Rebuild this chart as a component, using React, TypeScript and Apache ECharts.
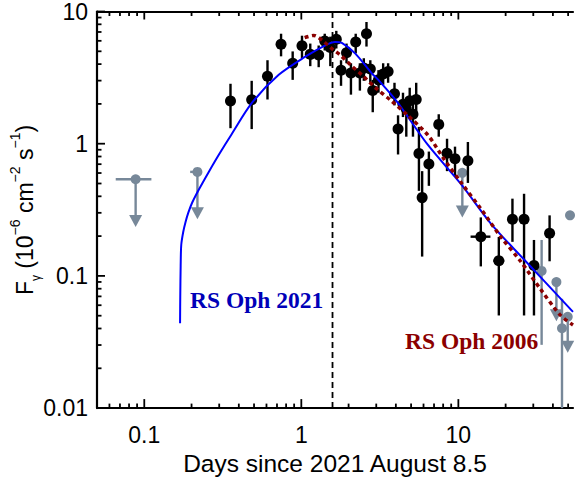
import React, { useEffect, useRef } from "react";
import * as echarts from "echarts";

// ---- Fermi-LAT detections (RS Oph 2021) ----
const detDays = [0.354, 0.483, 0.609, 0.743, 0.881, 1.01, 1.14, 1.29, 1.41, 1.53, 1.67, 1.79, 1.94, 2.07, 2.22, 2.36, 2.5, 2.6, 2.75, 2.85, 3.1, 3.32, 3.57, 3.92, 4.13, 4.44, 4.66, 4.9, 5.14, 5.39, 5.61, 5.88, 6.49, 7.5, 8.47, 9.52, 11.5, 13.9, 18.1, 22.1, 26.2, 30.3, 38.1];
const detFlux = [2.1, 2.15, 3.24, 5.65, 4.06, 5.5, 4.74, 4.68, 5.97, 5.34, 6.17, 3.6, 4.88, 3.42, 5.87, 3.42, 3.73, 6.79, 3.67, 2.53, 3.04, 3.37, 3.51, 2.39, 1.29, 1.99, 1.83, 2.11, 1.67, 2.16, 0.843, 0.391, 0.702, 1.4, 0.847, 0.77, 0.744, 0.198, 0.13, 0.268, 0.268, 0.12, 0.21];
const detLow = [1.31, 1.29, 2.16, 4.58, 3.04, 4.43, 3.86, 3.79, 5.07, 3.86, 5.25, 2.74, 4.06, 2.35, 4.82, 2.52, 2.99, 5.43, 2.89, 1.73, 2.43, 2.79, 2.89, 1.95, 0.829, 1.59, 1.13, 1.73, 1.13, 1.73, 0.44, 0.14, 0.48, 1.13, 0.62, 0.569, 0.505, 0.118, 0.0502, 0.181, 0.0502, 0.0502, 0.129];
const detHigh = [2.84, 2.99, 4.28, 6.79, 4.99, 6.56, 5.72, 5.53, 6.79, 6.45, 7.14, 4.28, 5.72, 4.06, 6.79, 4.06, 4.43, 8.33, 4.28, 3.04, 3.6, 4.06, 4.06, 2.89, 1.64, 2.43, 2.23, 2.65, 2.05, 2.89, 1.34, 0.62, 0.872, 1.67, 1.09, 0.95, 1.03, 0.277, 0.197, 0.384, 0.418, 0.187, 0.287];
// horizontal (time) error bars, 0 = none
const detDayLow = [0, 0, 0, 0, 0, 0, 0, 0, 0, 0, 0, 0, 0, 0, 0, 0, 0, 0, 0, 0, 0, 0, 0, 0, 0, 0, 0, 0, 0, 0, 0, 0, 0, 0, 0, 0, 0, 11.96, 16.7, 0, 0, 0, 0];
const detDayHigh = [0, 0, 0, 0, 0, 0, 0, 0, 0, 0, 0, 0, 0, 0, 0, 0, 0, 0, 0, 0, 0, 0, 0, 0, 0, 0, 0, 0, 0, 0, 0, 0, 0, 0, 0, 0, 0, 16.0, 19.6, 0, 0, 0, 0];

// ---- low-significance (grey) points ----
const greyDays = [33.9, 45.7, 51.4];
const greyFlux = [0.109, 0.0402, 0.287];
const greyLow = [0.0301, 0.01, 0.287];
const greyHigh = [0.187, 0.0671, 0.287];

// ---- upper limits (grey arrows) ----
const ulDays = [0.0881, 0.218, 10.6, 42.1, 49.7];
const ulFlux = [0.538, 0.612, 0.602, 0.0898, 0.0491];
const ulTip = [0.234, 0.268, 0.277, 0.0453, 0.0262];
const ulDayLow = [0.0658, 0.196, 0, 0, 0];
const ulDayHigh = [0.111, 0.233, 0, 0, 0];

// ---- model curve, RS Oph 2021 ----
const model2021Days = [0.169, 0.1695, 0.1705, 0.172, 0.177, 0.183, 0.191, 0.202, 0.224, 0.259, 0.299, 0.36, 0.487, 0.718, 1.06, 1.42, 1.64, 1.81, 2.2, 2.8, 3.08, 4.03, 4.55, 6.4, 10.4, 16.1, 26.2, 53.7];
const model2021Flux = [0.0438, 0.07, 0.12, 0.172, 0.215, 0.255, 0.302, 0.359, 0.456, 0.62, 0.829, 1.18, 2.05, 3.32, 4.55, 5.55, 5.89, 5.79, 4.82, 3.42, 3.05, 2.11, 1.73, 0.978, 0.494, 0.249, 0.133, 0.0535];

// ---- RS Oph 2006 template ----
const oph2006Days = [1.05, 1.2, 1.35, 1.56, 1.77, 2.09, 2.42, 3.01, 3.74, 4.78, 6.4, 8.15, 10.6, 13.9, 18.6, 24.9, 33.3, 44.6, 53.7];
const oph2006Flux = [6.34, 6.59, 6.09, 5.25, 4.68, 3.88, 3.33, 2.61, 2.11, 1.63, 1.16, 0.757, 0.494, 0.322, 0.198, 0.129, 0.0796, 0.0505, 0.0425];

const peakDay = 1.58;

const xTickLabels = ["0.1", "1", "10"];
const yTickLabels = ["0.01", "0.1", "1", "10"];
const xMin = 0.05;
const xMax = 53.7;
const yMin = 0.01;
const yMax = 10;

const GREY = "#778899";
const FONT = "Liberation Sans";

function decadeTicks(lo: number, hi: number) {
  const out: number[][] = [];
  for (let d = Math.floor(Math.log10(lo)); d <= Math.ceil(Math.log10(hi)); d++) {
    for (let m = 1; m <= 9; m++) {
      const v = m * Math.pow(10, d);
      if (v >= lo * 0.9999 && v <= hi * 1.0001) out.push([v, m === 1 ? 1 : 0]);
    }
  }
  return out;
}

function labelFormatter(labels: string[]) {
  return (v: number) => {
    for (const l of labels) {
      if (Math.abs(Math.log10(v) - Math.log10(parseFloat(l))) < 1e-6) return l;
    }
    return "";
  };
}

export default function App() {
  const ref = useRef<HTMLDivElement>(null);
  useEffect(() => {
    if (!ref.current) return;
    const chart = echarts.init(ref.current, null, { renderer: "svg" });

    const detData = detDays.map((d, i) => [d, detFlux[i], detLow[i], detHigh[i], detDayLow[i], detDayHigh[i]]);
    const greyData = greyDays.map((d, i) => [d, greyFlux[i], greyLow[i], greyHigh[i], 0, 0]);
    const ulData = ulDays.map((d, i) => [d, ulFlux[i], ulTip[i], ulDayLow[i], ulDayHigh[i]]);
    const xTicks = decadeTicks(xMin, xMax).map((t) => [t[0], yMin, t[1]]);
    const yTicks = decadeTicks(yMin, yMax).map((t) => [xMin, t[0], t[1]]);

    const renderErr = (color: string, r: number) => (params: any, api: any) => {
      const x = api.value(0), y = api.value(1), lo = api.value(2), hi = api.value(3), xl = api.value(4), xh = api.value(5);
      const p = api.coord([x, y]);
      const pl = api.coord([x, lo]);
      const ph = api.coord([x, hi]);
      const children: any[] = [];
      if (hi > lo) children.push({ type: "line", shape: { x1: p[0], y1: ph[1], x2: p[0], y2: pl[1] }, style: { stroke: color, lineWidth: 2.4 } });
      if (xl > 0 && xh > 0) {
        const a = api.coord([xl, y]);
        const b = api.coord([xh, y]);
        children.push({ type: "line", shape: { x1: a[0], y1: p[1], x2: b[0], y2: p[1] }, style: { stroke: color, lineWidth: 2.4 } });
      }
      children.push({ type: "circle", shape: { cx: p[0], cy: p[1], r }, style: { fill: color } });
      return { type: "group", children };
    };

    const renderUL = (params: any, api: any) => {
      const x = api.value(0), y = api.value(1), tip = api.value(2), xl = api.value(3), xh = api.value(4);
      const p = api.coord([x, y]);
      const t = api.coord([x, tip]);
      const ah = 12, aw = 6.5;
      const children: any[] = [
        { type: "line", shape: { x1: p[0], y1: p[1], x2: p[0], y2: t[1] - ah + 1 }, style: { stroke: GREY, lineWidth: 2.4 } },
        { type: "polygon", shape: { points: [[t[0] - aw, t[1] - ah], [t[0] + aw, t[1] - ah], [t[0], t[1]]] }, style: { fill: GREY } },
      ];
      if (xl > 0 && xh > 0) {
        const a = api.coord([xl, y]);
        const b = api.coord([xh, y]);
        children.push({ type: "line", shape: { x1: a[0], y1: p[1], x2: b[0], y2: p[1] }, style: { stroke: GREY, lineWidth: 2.4 } });
      }
      children.push({ type: "circle", shape: { cx: p[0], cy: p[1], r: 5 }, style: { fill: GREY } });
      return { type: "group", children };
    };

    const renderXTick = (params: any, api: any) => {
      const v = api.value(0);
      const major = api.value(2) === 1;
      const b = api.coord([v, yMin]);
      const t = api.coord([v, yMax]);
      const lb = major ? 9 : 4.5;
      const lt = major ? 8 : 4.5;
      return {
        type: "group",
        children: [
          { type: "line", shape: { x1: b[0], y1: b[1], x2: b[0], y2: b[1] - lb }, style: { stroke: "#000", lineWidth: 1.8 } },
          { type: "line", shape: { x1: t[0], y1: t[1], x2: t[0], y2: t[1] + lt }, style: { stroke: "#000", lineWidth: 1.8 } },
        ],
      };
    };

    const renderYTick = (params: any, api: any) => {
      const v = api.value(1);
      const major = api.value(2) === 1;
      const l = api.coord([xMin, v]);
      const len = major ? 8 : 4.5;
      return { type: "line", shape: { x1: l[0], y1: l[1], x2: l[0] + len, y2: l[1] }, style: { stroke: "#000", lineWidth: 1.8 } };
    };

    chart.setOption({
      animation: false,
      textStyle: { fontFamily: FONT },
      grid: { left: 97, right: 0, top: 7, bottom: 69, containLabel: false },
      xAxis: [
        {
          type: "log",
          logBase: 10,
          min: xMin,
          max: xMax,
          position: "bottom",
          axisLine: { show: true, onZero: false, lineStyle: { color: "#000", width: 2.2 } },
          axisTick: { show: false },
          splitLine: { show: false },
          minorTick: { show: false },
          axisLabel: { formatter: labelFormatter(xTickLabels), fontSize: 23, color: "#000", fontFamily: FONT, margin: 15 },
          name: "Days since 2021 August 8.5",
          nameLocation: "middle",
          nameGap: 42,
          nameTextStyle: { fontSize: 24.5, color: "#000", fontFamily: FONT },
        },
        {
          type: "log",
          logBase: 10,
          min: xMin,
          max: xMax,
          position: "top",
          axisLine: { show: true, onZero: false, lineStyle: { color: "#000", width: 2.2 } },
          axisTick: { show: false },
          axisLabel: { show: false },
          splitLine: { show: false },
        },
      ],
      yAxis: {
        type: "log",
        logBase: 10,
        min: yMin,
        max: yMax,
        axisLine: { show: true, onZero: false, lineStyle: { color: "#000", width: 2.2 } },
        axisTick: { show: false },
        splitLine: { show: false },
        axisLabel: { formatter: labelFormatter(yTickLabels), fontSize: 23, color: "#000", fontFamily: FONT, margin: 9, padding: [8, 0, 0, 0] },
      },
      graphic: [
        {
          type: "text",
          x: 25,
          y: 210,
          rotation: Math.PI / 2,
          style: {
            text: "{m|F}{sub|γ}{m| (10}{sup|−6}{m| cm}{sup|−2}{m| s}{sup|−1}{m|)}",
            align: "center",
            verticalAlign: "middle",
            textAlign: "center",
            textVerticalAlign: "middle",
            fill: "#000",
            rich: {
              m: { fontSize: 23, fontFamily: FONT, lineHeight: 34, fill: "#000", color: "#000" },
              sup: { fontSize: 14, fontFamily: FONT, lineHeight: 14, verticalAlign: "top", fill: "#000", color: "#000" },
              sub: { fontSize: 12, fontFamily: FONT, lineHeight: 12, verticalAlign: "bottom", fill: "#000", color: "#000" },
            },
          },
        },
        {
          type: "text",
          x: 190,
          y: 300,
          style: {
            text: "RS Oph 2021",
            font: "bold 23.5px 'Liberation Serif'",
            fill: "#0000b8",
            align: "left",
            verticalAlign: "middle",
            textAlign: "left",
            textVerticalAlign: "middle",
          },
        },
        {
          type: "text",
          x: 405,
          y: 341,
          style: {
            text: "RS Oph 2006",
            font: "bold 23.5px 'Liberation Serif'",
            fill: "#8b0000",
            align: "left",
            verticalAlign: "middle",
            textAlign: "left",
            textVerticalAlign: "middle",
          },
        },
      ],
      series: [
        { type: "custom", name: "xticks", xAxisIndex: 0, yAxisIndex: 0, renderItem: renderXTick, data: xTicks, silent: true, z: 1 },
        { type: "custom", name: "yticks", xAxisIndex: 0, yAxisIndex: 0, renderItem: renderYTick, data: yTicks, silent: true, z: 1 },
        {
          type: "line",
          name: "peak",
          data: [[peakDay, yMin], [peakDay, yMax]],
          symbol: "none",
          lineStyle: { color: "#000", width: 1.8, type: [6, 4] },
          z: 2,
        },
        { type: "custom", name: "upper limits", renderItem: renderUL, data: ulData, z: 3 },
        { type: "custom", name: "grey", renderItem: renderErr(GREY, 5), data: greyData, z: 3 },
        { type: "custom", name: "detections", renderItem: renderErr("#000", 5.5), data: detData, z: 4 },
        {
          type: "line",
          name: "RS Oph 2021",
          data: model2021Days.map((d, i) => [d, model2021Flux[i]]),
          symbol: "none",
          smooth: 0.3,
          lineStyle: { color: "#0000ff", width: 2 },
          z: 5,
        },
        {
          type: "line",
          name: "RS Oph 2006",
          data: oph2006Days.map((d, i) => [d, oph2006Flux[i]]),
          symbol: "none",
          smooth: 0.3,
          lineStyle: { color: "#8b0000", width: 3.5, type: [4, 3.5] },
          z: 6,
        },
      ],
    });
    return () => chart.dispose();
  }, []);
  return <div ref={ref} style={{ position: "absolute", left: 0, top: 0, width: 576, height: 481 }} />;
}
